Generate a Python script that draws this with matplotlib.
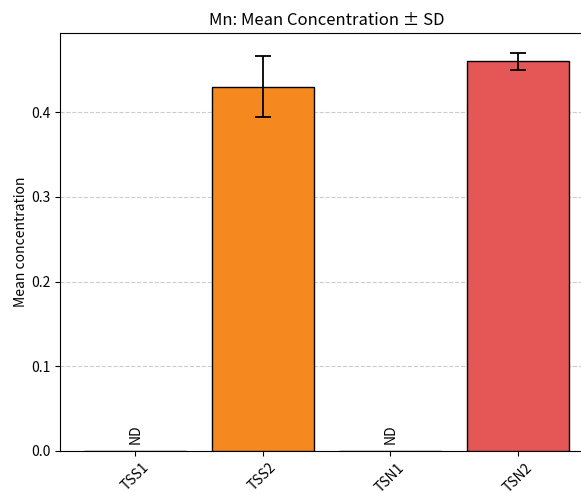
import matplotlib
matplotlib.use("Agg")
import matplotlib.pyplot as plt
import numpy as np

plt.rcParams['font.family'] = ['Noto Sans CJK SC', 'DejaVu Sans']

samples = ["TSS1", "TSS2", "TSN1", "TSN2"]
means = [0.0, 0.43, 0.0, 0.46]
sds = [0.0, 0.036, 0.0, 0.01]
detected = [False, True, False, True]
colors = ["#1f77b4", "#F5891F", "#2ca02c", "#E45756"]

fig = plt.figure(figsize=(5.81, 4.95), dpi=100)
ax = fig.add_axes([0.1033, 0.0889, 0.9174, 0.8444])

x = np.arange(len(samples))
for i in range(len(samples)):
    if detected[i]:
        ax.bar(x[i], means[i], width=0.8, color=colors[i], edgecolor="black",
               linewidth=1.0, yerr=sds[i], capsize=6,
               error_kw=dict(elinewidth=1.3, capthick=1.3, ecolor="black"), zorder=3)
    else:
        ax.bar(x[i], means[i], width=0.8, color="white", edgecolor="black",
               linewidth=1.0, zorder=3)
        ax.text(x[i], 0.008, "ND", rotation=90, ha="center", va="bottom", fontsize=10)

ax.set_xticks(x)
ax.set_xticklabels(samples, rotation=45, fontsize=10)
ax.tick_params(axis="y", labelsize=10)
ax.set_ylabel("Mean concentration", fontsize=10, labelpad=2)
ax.set_title("Mn: Mean Concentration ± SD", fontsize=12)
ax.yaxis.grid(True, linestyle="--", color="#cccccc", linewidth=0.8, zorder=0)
ax.set_axisbelow(True)
# the right side of the frame lies past the canvas edge
ax.spines["right"].set_visible(False)

fig.savefig("out.png", dpi=100)
